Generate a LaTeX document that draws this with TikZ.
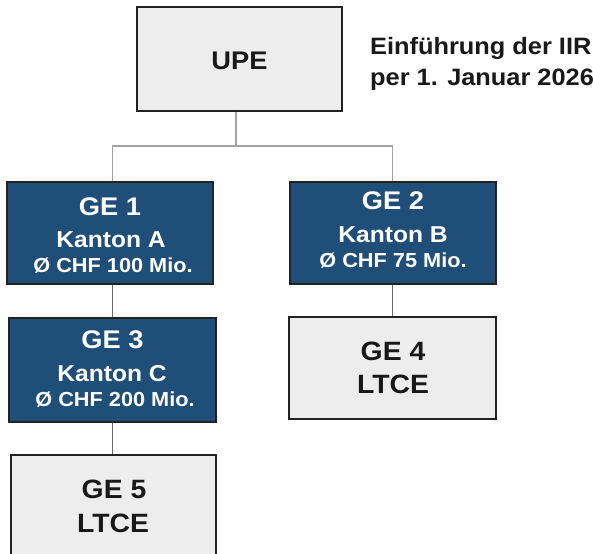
\documentclass[tikz,border=0pt]{standalone}
\usepackage{fontspec}
\setmainfont{Liberation Sans}[FakeStretch=1.07]
\definecolor{geblue}{HTML}{1F4E79}
\definecolor{gefill}{HTML}{EDEDED}
\definecolor{geline}{HTML}{222222}
\definecolor{conngray}{HTML}{A3A3A3}
\definecolor{conndark}{HTML}{6A6A6A}
\tikzset{
  box/.style={draw=geline, line width=1.4pt, inner sep=0pt, anchor=center},
  graybox/.style={box, fill=gefill},
  bluebox/.style={box, fill=geblue},
  conn/.style={draw=conngray, line width=1.3pt},
  conndk/.style={draw=conndark, line width=1.3pt},
  lbl/.style={inner sep=0pt, anchor=base, font=\bfseries},
  wlbl/.style={lbl, text=white},
  blbl/.style={lbl, text=black!90},
}
\begin{document}
\begin{tikzpicture}[x=1pt,y=-1pt]
\clip (0,0) rectangle (593,553);
\fill[white] (0,0) rectangle (593,553);

% boxes
\node[graybox, minimum width=205pt, minimum height=104pt] (upe) at (239.5,59) {};
\node[bluebox, minimum width=206pt, minimum height=102pt] (ge1) at (110,233) {};
\node[bluebox, minimum width=206pt, minimum height=102pt] (ge2) at (393,233) {};
\node[bluebox, minimum width=207pt, minimum height=104pt] (ge3) at (112.5,370) {};
\node[graybox, minimum width=207pt, minimum height=102pt] (ge4) at (392.5,368) {};
\node[graybox, minimum width=205pt, minimum height=104pt] (ge5) at (113.5,507) {};

% connectors
\coordinate (junc) at (236,146);
\draw[conn] (junc |- upe.south) -- (junc);
\draw[conn] (junc) -| (ge3.north |- ge1.north);
\draw[conn] (junc) -| (ge4.north |- ge2.north);
\draw[conndk] (ge3.north |- ge1.south) -- (ge3.north);
\draw[conndk] (ge4.north |- ge2.south) -- (ge4.north);
\draw[conndk] (ge3.south) -- (ge3.south |- ge5.north);

% labels
\node[blbl, font=\bfseries\fontsize{25.5}{30}\selectfont] (upet) at (239.5,70) {UPE};

\node[wlbl, font=\bfseries\fontsize{25.5}{30}\selectfont] (ge1a) at (110,215) {GE 1};
\node[wlbl, font=\bfseries\fontsize{23}{27}\selectfont] (ge1b) at (111,247) {Kanton A};
\node[wlbl, font=\bfseries\fontsize{20.3}{24}\selectfont] (ge1c) at (113,272) {Ø CHF 100 Mio.};

\node[wlbl, font=\bfseries\fontsize{25.5}{30}\selectfont] (ge2a) at (393,209) {GE 2};
\node[wlbl, font=\bfseries\fontsize{23}{27}\selectfont] (ge2b) at (393,242) {Kanton B};
\node[wlbl, font=\bfseries\fontsize{20.3}{24}\selectfont] (ge2c) at (393,267) {Ø CHF 75 Mio.};

\node[wlbl, font=\bfseries\fontsize{25.5}{30}\selectfont] (ge3a) at (112.5,348) {GE 3};
\node[wlbl, font=\bfseries\fontsize{23}{27}\selectfont] (ge3b) at (112,381.5) {Kanton C};
\node[wlbl, font=\bfseries\fontsize{20.3}{24}\selectfont] (ge3c) at (115,406.5) {Ø CHF 200 Mio.};

\node[blbl, font=\bfseries\fontsize{26.5}{30}\selectfont] (ge4a) at (393,360) {GE 4};
\node[blbl, font=\bfseries\fontsize{26.5}{30}\selectfont] (ge4b) at (393,393) {LTCE};

\node[blbl, font=\bfseries\fontsize{26.5}{30}\selectfont] (ge5a) at (114,498) {GE 5};
\node[blbl, font=\bfseries\fontsize{26.5}{30}\selectfont] (ge5b) at (113,532) {LTCE};

\node[blbl, anchor=base west, font=\bfseries\fontsize{23.7}{28}\selectfont] (t1) at (370,55) {Einführung der IIR};
\node[blbl, anchor=base west, font=\bfseries\fontsize{23.7}{28}\selectfont] (t2) at (370,86) {per 1. Januar 2026};
\end{tikzpicture}
\end{document}
